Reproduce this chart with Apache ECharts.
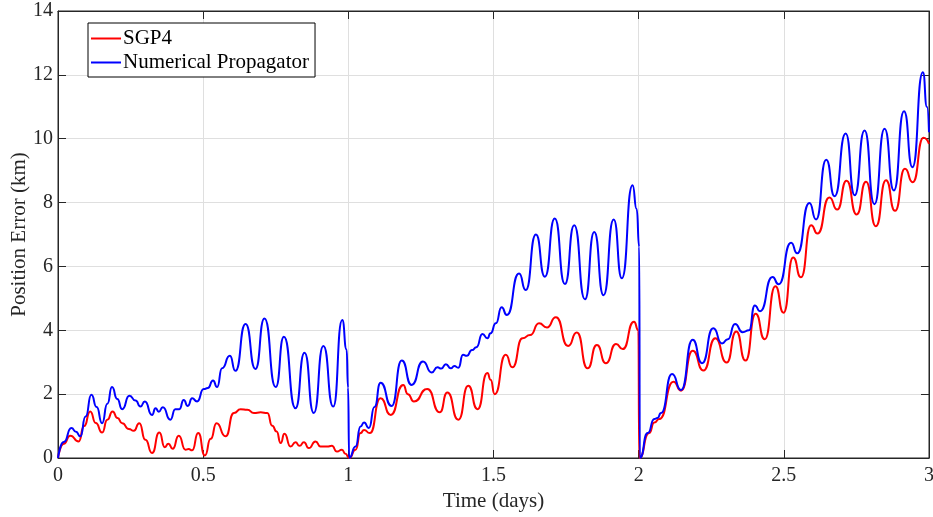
<!DOCTYPE html>
<html>
<head>
<meta charset="utf-8">
<script src="https://cdn.jsdelivr.net/npm/echarts@6/dist/echarts.min.js"></script>
<style>
  html, body { margin: 0; padding: 0; background: #fff; }
  #chart { width: 933px; height: 517px; }
</style>
</head>
<body>
<div id="chart"></div>
<script>
// SGP4 position error (km) vs time (days)
const sgpDays = [
  0, 0.02, 0.042, 0.071, 0.09, 0.111, 0.13, 0.152, 0.17, 0.188, 0.205, 0.221, 0.244, 0.261, 0.28,
  0.301, 0.324, 0.349, 0.368, 0.38, 0.395, 0.416, 0.439, 0.45, 0.462, 0.483, 0.506, 0.526, 0.546,
  0.577, 0.606, 0.629, 0.652, 0.675, 0.698, 0.721, 0.738, 0.753, 0.767, 0.78, 0.801, 0.818, 0.832,
  0.847, 0.864, 0.887, 0.904, 0.927, 0.943, 0.961, 0.978, 0.99, 1.003,
  1.025, 1.042, 1.054, 1.074, 1.111, 1.146, 1.189, 1.205, 1.226, 1.272, 1.315, 1.341, 1.379, 1.413,
  1.445, 1.479, 1.49, 1.504, 1.542, 1.565, 1.6, 1.626, 1.657, 1.684, 1.715, 1.757, 1.787, 1.824,
  1.856, 1.887, 1.922, 1.945, 1.984, 1.999, 2.002,
  2.036, 2.054, 2.071, 2.12, 2.146, 2.186, 2.223, 2.264, 2.303, 2.336, 2.368, 2.403, 2.434, 2.471,
  2.499, 2.532, 2.559, 2.594, 2.616, 2.657, 2.684, 2.716, 2.751, 2.783, 2.817, 2.852, 2.883, 2.917,
  2.944, 2.981, 3.0
];
const sgpKm = [
  0, 0.45, 0.70, 0.52, 1.0, 1.46, 1.1, 0.80, 1.2, 1.46, 1.25, 1.09, 0.91, 0.85, 1.09,
  0.57, 0.16, 0.80, 0.34, 0.45, 0.29, 0.70, 0.26, 0.28, 0.24, 0.78, 0.08, 0.6, 1.09,
  0.68, 1.41, 1.53, 1.51, 1.41, 1.43, 1.41, 1.01, 0.83, 0.47, 0.76, 0.36, 0.49, 0.38,
  0.49, 0.31, 0.52, 0.36, 0.36, 0.38, 0.2, 0.26, 0.13, 0,
  0.26, 0.78, 0.88, 0.78, 1.87, 1.35, 2.29, 2.0, 1.77, 2.16, 1.43, 2.05, 1.2, 2.26,
  1.53, 2.66, 2.45, 2.0, 3.23, 2.84, 3.75, 3.85, 4.22, 4.09, 4.41, 3.51, 3.93, 2.81,
  3.54, 2.97, 3.57, 3.41, 4.27, 4.0, 0,
  0.78, 1.11, 1.22, 2.39, 2.11, 3.36, 2.74, 3.75, 2.99, 3.96, 3.05, 4.52, 3.72, 5.38,
  4.55, 6.28, 5.66, 7.29, 7.03, 8.16, 7.78, 8.68, 7.63, 8.65, 7.26, 8.7, 7.74, 9.06,
  8.64, 10.03, 9.84
];

// Numerical propagator position error (km) vs time (days)
const numDays = [
  0, 0.02, 0.046, 0.062, 0.077, 0.095, 0.115, 0.133, 0.152, 0.17, 0.186, 0.204, 0.221, 0.246, 0.267,
  0.284, 0.299, 0.324, 0.336, 0.347, 0.361, 0.387, 0.404, 0.418, 0.433, 0.447, 0.462, 0.479, 0.502,
  0.516, 0.534, 0.548, 0.565, 0.592, 0.611, 0.646, 0.68, 0.711, 0.75, 0.778, 0.818, 0.849, 0.881,
  0.914, 0.948, 0.979, 0.994, 0.999, 1.003,
  1.025, 1.042, 1.054, 1.071, 1.09, 1.111, 1.149, 1.184, 1.218, 1.257, 1.287, 1.307, 1.32, 1.336,
  1.353, 1.365, 1.379, 1.395, 1.408, 1.426, 1.441, 1.462, 1.479, 1.49, 1.508, 1.528, 1.546, 1.588,
  1.611, 1.646, 1.677, 1.711, 1.746, 1.778, 1.815, 1.847, 1.879, 1.914, 1.942, 1.979, 1.993, 2.002,
  2.004,
  2.031, 2.054, 2.065, 2.077, 2.115, 2.146, 2.186, 2.218, 2.257, 2.287, 2.307, 2.332, 2.358, 2.38,
  2.4, 2.418, 2.461, 2.482, 2.525, 2.546, 2.588, 2.611, 2.646, 2.675, 2.713, 2.744, 2.778, 2.812,
  2.847, 2.879, 2.914, 2.943, 2.979, 2.993, 3.0
];
const numKm = [
  0, 0.5, 0.94, 0.82, 0.68, 1.3, 1.98, 1.6, 1.09, 1.7, 2.22, 1.85, 1.53, 1.95, 1.8,
  1.61, 1.77, 1.35, 1.56, 1.45, 1.59, 1.2, 1.53, 1.53, 1.82, 1.63, 1.87, 1.77, 2.16,
  2.19, 2.43, 2.22, 2.81, 3.2, 2.73, 4.2, 2.79, 4.37, 2.22, 3.8, 1.56, 3.3, 1.41,
  3.51, 1.61, 4.32, 3.4, 2.2, 0,
  0.36, 0.99, 1.11, 0.94, 1.6, 2.36, 1.63, 3.05, 2.29, 3.02, 2.68, 2.84, 2.8, 2.94,
  2.81, 2.88, 2.83, 3.23, 3.2, 3.38, 3.47, 3.88, 3.75, 3.91, 4.22, 4.72, 4.48, 5.78,
  5.26, 7.0, 5.68, 7.5, 5.45, 7.29, 4.97, 7.08, 5.1, 7.47, 5.63, 8.54, 7.8, 6.61,
  0,
  0.78, 1.22, 1.25, 1.41, 2.63, 2.13, 3.7, 2.97, 4.06, 3.59, 3.72, 4.2, 3.94, 4.0,
  4.78, 4.6, 5.67, 5.44, 6.74, 6.41, 7.99, 7.47, 9.34, 8.2, 10.16, 8.23, 10.26, 7.95,
  10.31, 8.38, 10.86, 9.11, 12.08, 11.0, 10.2
];

const seriesNames = ["SGP4", "Numerical Propagator"];
const seriesColors = ["#ff0000", "#0000ff"];

const font = "Liberation Serif";
const ink = "#262626";

function pairs(xs, ys) {
  return xs.map((x, i) => [x, ys[i]]);
}

const chart = echarts.init(document.getElementById("chart"), null, { renderer: "canvas" });

// box axes: ticks point inward, no jumping to zero
const axisCommon = {
  axisLine: { show: true, onZero: false, lineStyle: { color: ink, width: 1 } },
  axisTick: { show: true, inside: true, length: 8, lineStyle: { color: ink } },
};

chart.setOption({
  animation: false,
  backgroundColor: "#fff",
  grid: {
    left: 58,
    right: 4,
    top: 11,
    bottom: 59,
    containLabel: false,
    outerBoundsMode: "none",
    show: true,
    borderColor: ink,
    borderWidth: 1,
  },
  legend: {
    data: seriesNames,
    orient: "vertical",
    left: 88,
    top: 23,
    padding: [5, 6, 4, 3],
    itemGap: 3,
    itemWidth: 30,
    itemHeight: 2,
    icon: "rect",
    backgroundColor: "#fff",
    borderColor: "#000",
    borderWidth: 1,
    borderRadius: 0,
    selectedMode: false,
    textStyle: { fontFamily: font, fontSize: 21, color: "#000", padding: [0, 0, 0, -3] },
  },
  xAxis: [
    {
      type: "value",
      min: 0,
      max: 3,
      interval: 0.5,
      name: "Time (days)",
      nameLocation: "middle",
      nameGap: 33,
      nameMoveOverlap: false,
      nameTextStyle: { fontFamily: font, fontSize: 21, color: ink },
      ...axisCommon,
      axisLabel: { fontFamily: font, fontSize: 20, color: ink, margin: 8 },
      splitLine: { show: true, lineStyle: { color: "#dfdfdf", width: 1 } },
    },
    {
      type: "value",
      position: "top",
      min: 0,
      max: 3,
      interval: 0.5,
      ...axisCommon,
      axisLabel: { show: false },
      splitLine: { show: false },
    },
  ],
  yAxis: [
    {
      type: "value",
      min: 0,
      max: 14,
      interval: 2,
      name: "Position Error (km)",
      nameLocation: "middle",
      nameGap: 28,
      nameMoveOverlap: false,
      nameTextStyle: { fontFamily: font, fontSize: 21, color: ink },
      ...axisCommon,
      axisLabel: { fontFamily: font, fontSize: 20, color: ink, margin: 5 },
      splitLine: { show: true, lineStyle: { color: "#dfdfdf", width: 1 } },
    },
    {
      type: "value",
      position: "right",
      min: 0,
      max: 14,
      interval: 2,
      ...axisCommon,
      axisLabel: { show: false },
      splitLine: { show: false },
    },
  ],
  series: [
    {
      name: seriesNames[0],
      type: "line",
      data: pairs(sgpDays, sgpKm),
      symbol: "none",
      smooth: 0.6,
      smoothMonotone: "x",
      lineStyle: { color: seriesColors[0], width: 2 },
      itemStyle: { color: seriesColors[0] },
      z: 3,
    },
    {
      name: seriesNames[1],
      type: "line",
      data: pairs(numDays, numKm),
      symbol: "none",
      smooth: 0.6,
      smoothMonotone: "x",
      lineStyle: { color: seriesColors[1], width: 2 },
      itemStyle: { color: seriesColors[1] },
      z: 4,
    },
  ],
});
</script>
</body>
</html>
